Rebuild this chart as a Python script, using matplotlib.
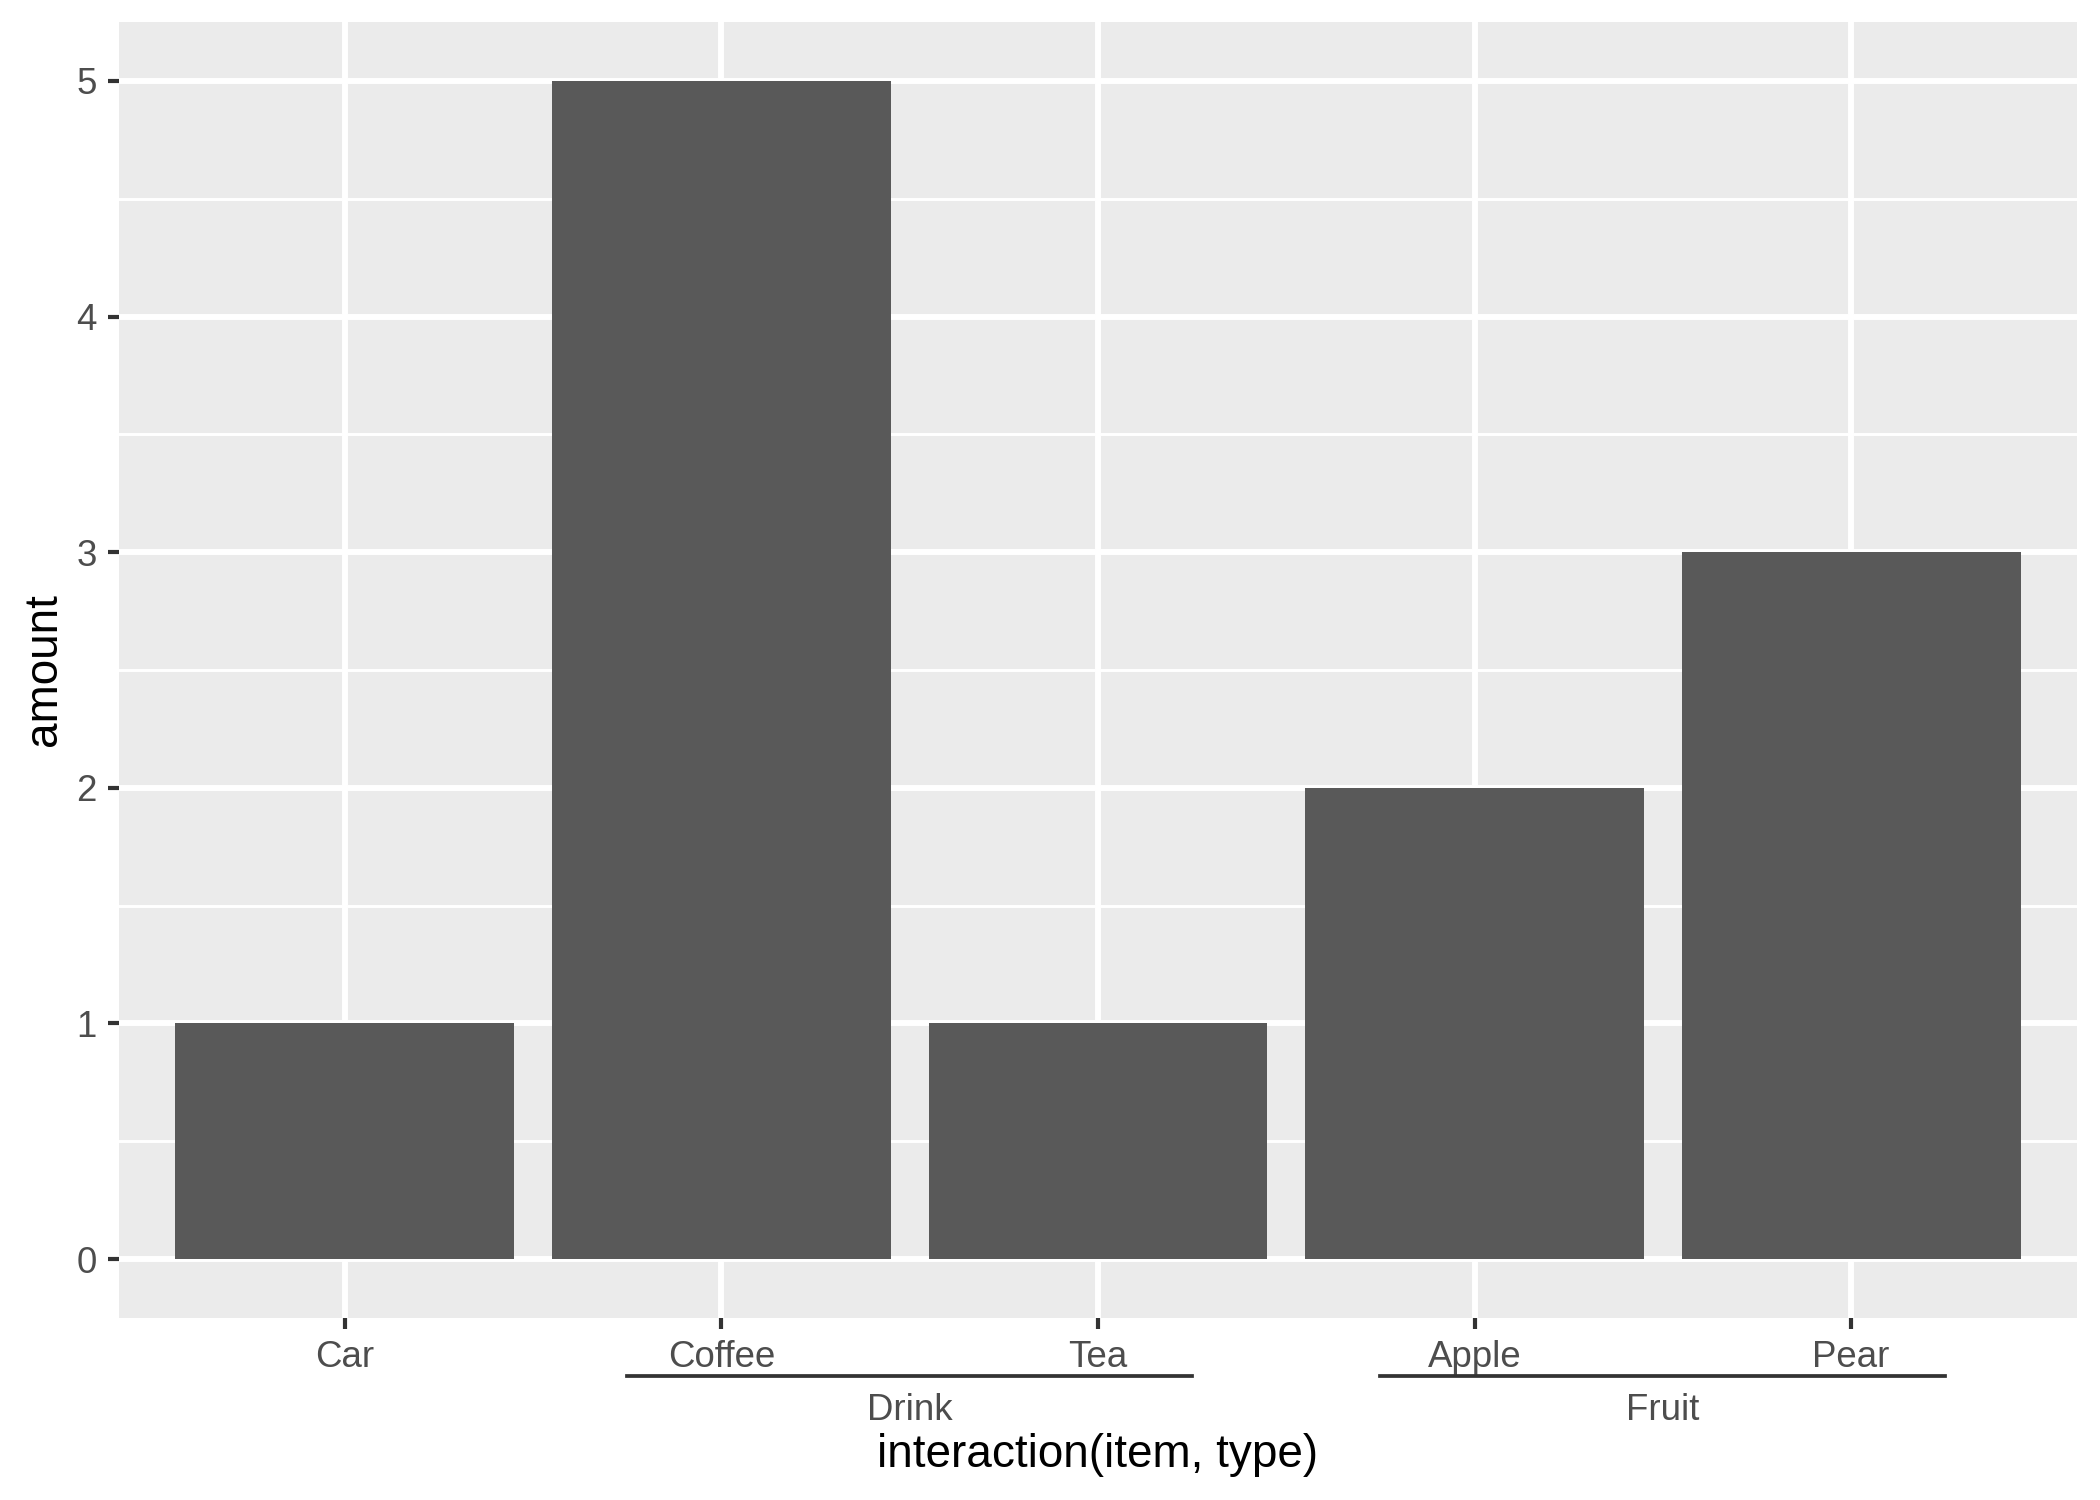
import matplotlib
matplotlib.use("Agg")
import matplotlib.pyplot as plt
from matplotlib.lines import Line2D

items = ["Car", "Coffee", "Tea", "Apple", "Pear"]
types = ["", "Drink", "Drink", "Fruit", "Fruit"]
amount = [1, 5, 1, 2, 3]
y_ticks = [0, 1, 2, 3, 4, 5]
x_label = "interaction(item, type)"
y_label = "amount"

plt.rcParams['font.family'] = ['Liberation Sans', 'DejaVu Sans']

W, H = 2100, 1500
fig = plt.figure(figsize=(7, 5), dpi=300)
L, R, T, B = 119, 2077, 22, 1318
ax = fig.add_axes([L / W, 1 - B / H, (R - L) / W, (B - T) / H])
ax.set_facecolor('#EBEBEB')
for s in ax.spines.values():
    s.set_visible(False)

pos = list(range(1, len(items) + 1))
ax.set_xlim(0.4, len(items) + 0.6)
ax.set_ylim(-0.25, 5.25)

# grid
for y in y_ticks:
    ax.axhline(y, color='white', lw=1.42, zorder=0.5)
for y in [v + 0.5 for v in y_ticks[:-1]]:
    ax.axhline(y, color='white', lw=0.71, zorder=0.5)
for x in pos:
    ax.axvline(x, color='white', lw=1.42, zorder=0.5)

ax.bar(pos, amount, width=0.9, color='#595959', zorder=2)

ax.set_yticks(y_ticks)
ax.set_yticklabels([str(v) for v in y_ticks])
ax.set_xticks(pos)
ax.set_xticklabels(items)
ax.tick_params(axis='both', length=2.75, width=1.0, color='#333333',
               labelcolor='#4D4D4D', labelsize=8.8, pad=2.6)

# group lines and labels
groups = []
for t in types:
    if t and t not in groups:
        groups.append(t)
line_y = 1 - 1376 / H
lab_y = 1 - 1410 / H
for g in groups:
    idx = [p for p, t in zip(pos, types) if t == g]
    x0, x1 = min(idx) - 0.25, max(idx) + 0.25
    fx0 = fig.transFigure.inverted().transform(ax.transData.transform((x0, 0)))[0]
    fx1 = fig.transFigure.inverted().transform(ax.transData.transform((x1, 0)))[0]
    fig.add_artist(Line2D([fx0, fx1], [line_y, line_y], color='#333333', lw=0.9,
                          transform=fig.transFigure))
    fig.text((fx0 + fx1) / 2, lab_y, g, ha='center', va='center',
             fontsize=8.8, color='#4D4D4D')

fig.text((L + R) / 2 / W, 1 - 1455 / H, x_label, ha='center', va='center',
         fontsize=11, color='black')
fig.text(44 / W, 1 - (T + B) / 2 / H, y_label, ha='center', va='center',
         rotation=90, fontsize=11, color='black')

fig.savefig('out.png', dpi=300, facecolor='white')
